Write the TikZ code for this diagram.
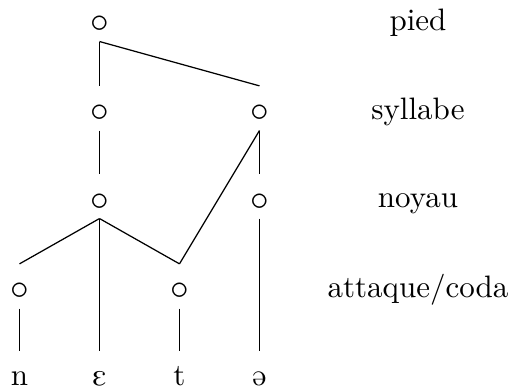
\documentclass[tikz,border=0pt]{standalone}
\usepackage{tipa}
\usepackage{tikz}
\usetikzlibrary{positioning}
\tikzset{
  knot/.style ={anchor=base, inner xsep=3pt, inner ysep=2.55pt, text height=8.9pt, text depth=0pt, font=\fontsize{13}{15}\selectfont},
  seg/.style  ={anchor=base, inner sep=3.3pt, text height=7.4pt, text depth=0pt},
  tier/.style ={anchor=base, font=\normalsize},
  ln/.style   ={line width=0.4pt},
}
\begin{document}
\begin{tikzpicture}
  \useasboundingbox (0,0) rectangle (5.782,4.410);

  % noeuds
  \node[knot, text height=5pt] (pied) at (1.128,4.036) {$\circ$};
  \node[knot] (sa)   at (1.128,3.027) {$\circ$};
  \node[knot] (sb)   at (2.942,3.027) {$\circ$};
  \node[knot] (na)   at (1.128,2.029) {$\circ$};
  \node[knot] (nb)   at (2.942,2.029) {$\circ$};
  \node[knot] (att)  at (0.221,1.009) {$\circ$};
  \node[knot] (cod)  at (2.035,1.009) {$\circ$};

  % segments
  \node[seg] (n)   at (0.221,0.045) {n};
  \node[seg] (eps) at (1.128,0.045) {\textipa{E}};
  \node[seg] (t)   at (2.035,0.045) {t};
  \node[seg] (sch) at (2.942,0.045) {\textipa{@}};

  % niveaux
  \node[tier] (lp) at (4.739,4.062) {pied};
  \node[tier] (ls) at (4.739,3.053) {syllabe};
  \node[tier] (ln) at (4.739,2.055) {noyau};
  \node[tier] (la) at (4.739,1.035) {attaque/coda};

  \draw[ln] (pied.south) -- (sa.north);  \draw[ln] (pied.south) -- (sb.north);
  \draw[ln] (sa.south) -- (na.north);    \draw[ln] (sb.south) -- (nb.north);
  \draw[ln] (sb.south) -- (cod.north);
  \draw[ln] (na.south) -- (att.north);   \draw[ln] (na.south) -- (cod.north);
  \draw[ln] (na.south) -- (eps.north);   \draw[ln] (nb.south) -- (sch.north);
  \draw[ln] (att.south) -- (n.north);    \draw[ln] (cod.south) -- (t.north);
\end{tikzpicture}
\end{document}
